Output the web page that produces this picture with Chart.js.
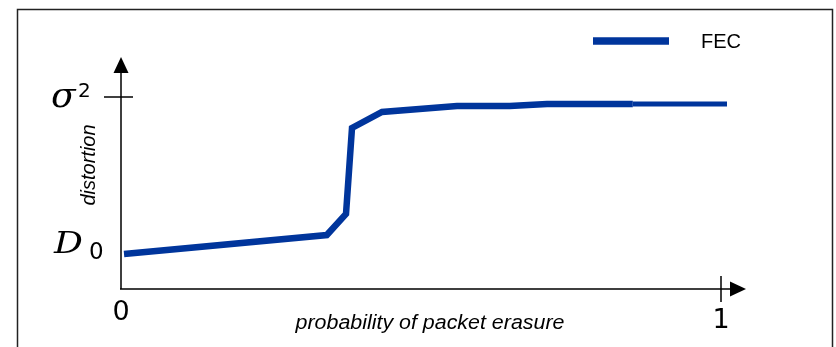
<!DOCTYPE html>
<html>
<head>
<meta charset="utf-8">
<script src="https://cdn.jsdelivr.net/npm/chart.js@4.4.1/dist/chart.umd.min.js"></script>
<style>
  html, body { margin: 0; padding: 0; background: #fff; }
  #wrap { width: 836px; height: 347px; }
</style>
</head>
<body>
<div id="wrap"><canvas id="fecChart" width="836" height="347"></canvas></div>
<script>
// curve (x: erasure probability 0..1, y: distortion, sigma^2 = 1)
const probability = [0.005, 0.343, 0.375, 0.385, 0.435, 0.56, 0.648, 0.71, 0.853];
const distortion  = [0.182, 0.281, 0.391, 0.839, 0.922, 0.953, 0.953, 0.964, 0.964];
// thinner tail of the same curve
const tailProbability = [0.853, 1.01];
const tailDistortion  = [0.964, 0.964];

const xTickValues = [0, 1];
const xTickLabels = ['0', '1'];
const yTickValues = [0.24, 1];
const yTickLabels = [['D', '0'], ['σ', '2']];

const seriesName = 'FEC';
const xTitle = 'probability of packet erasure';
const yTitle = 'distortion';

const blue = '#00359c';

const toPoints = (xs, ys) => xs.map((x, i) => ({ x: x, y: ys[i] }));

const sketchAxes = {
  id: 'sketchAxes',
  afterDatasetsDraw(chart) {
    const c = chart.ctx;
    const xs = chart.scales.x, ys = chart.scales.y;
    const x0 = xs.getPixelForValue(0), y0 = ys.getPixelForValue(0);
    c.save();

    // frame
    c.strokeStyle = '#222';
    c.lineWidth = 1.5;
    c.beginPath();
    c.moveTo(17.5, 360);
    c.lineTo(17.5, 9.5);
    c.lineTo(832.5, 9.5);
    c.lineTo(832.5, 360);
    c.stroke();

    // axes
    c.strokeStyle = '#000';
    c.fillStyle = '#000';
    c.lineWidth = 1.5;
    c.beginPath();
    c.moveTo(x0, y0);
    c.lineTo(x0, 70);
    c.moveTo(x0 - 1, y0);
    c.lineTo(733, y0);
    c.stroke();
    c.beginPath();
    c.moveTo(x0, 57);
    c.lineTo(x0 - 7.5, 73);
    c.lineTo(x0 + 7.5, 73);
    c.closePath();
    c.fill();
    c.beginPath();
    c.moveTo(746, y0);
    c.lineTo(730, y0 - 7.5);
    c.lineTo(730, y0 + 7.5);
    c.closePath();
    c.fill();

    // x ticks and labels
    c.font = '27px "DejaVu Sans"';
    c.textAlign = 'center';
    c.textBaseline = 'alphabetic';
    xTickValues.forEach((v, i) => {
      const px = xs.getPixelForValue(v);
      if (v > 0) {
        c.beginPath();
        c.moveTo(px, y0 - 13);
        c.lineTo(px, y0 + 13);
        c.stroke();
      }
      c.fillText(xTickLabels[i], px, v > 0 ? 328 : 320);
    });

    // y ticks and labels
    c.textAlign = 'left';
    yTickValues.forEach((v, i) => {
      const py = ys.getPixelForValue(v);
      const lab = yTickLabels[i];
      if (lab[0] === 'σ') {
        c.beginPath();
        c.moveTo(104, py);
        c.lineTo(133, py);
        c.stroke();
        c.font = 'italic 36px "DejaVu Serif"';
        c.fillText(lab[0], 51, py + 10);
        const w = c.measureText(lab[0]).width;
        c.font = '20px "DejaVu Sans"';
        c.fillText(lab[1], Math.max(78, 51 + w), py);
      } else {
        c.save();
        c.translate(54, py + 10);
        c.scale(1.2, 1);
        c.font = 'italic 30px "DejaVu Serif"';
        c.fillText(lab[0], 0, 0);
        c.restore();
        c.font = '23px "DejaVu Sans"';
        c.fillText(lab[1], 89, py + 16);
      }
    });

    // axis titles
    c.font = 'italic 20px "Liberation Sans"';
    c.textAlign = 'center';
    c.save();
    c.translate(430, 329);
    c.scale(1.07, 1);
    c.fillText(xTitle, 0, 0);
    c.restore();
    c.save();
    c.translate(95, 165);
    c.rotate(-Math.PI / 2);
    c.fillText(yTitle, 0, 0);
    c.restore();

    // legend
    c.strokeStyle = blue;
    c.lineWidth = 7.5;
    c.beginPath();
    c.moveTo(593, 41);
    c.lineTo(669, 41);
    c.stroke();
    c.fillStyle = '#000';
    c.font = '20px "Liberation Sans"';
    c.textAlign = 'left';
    c.fillText(seriesName, 701, 48);

    c.restore();
  }
};

new Chart(document.getElementById('fecChart'), {
  type: 'scatter',
  data: {
    datasets: [{
      label: seriesName,
      data: toPoints(probability, distortion),
      showLine: true,
      borderColor: blue,
      borderWidth: 6.5,
      borderJoinStyle: 'miter',
      borderCapStyle: 'butt',
      pointRadius: 0,
      clip: false
    }, {
      label: seriesName + ' tail',
      data: toPoints(tailProbability, tailDistortion),
      showLine: true,
      borderColor: blue,
      borderWidth: 5,
      borderCapStyle: 'butt',
      pointRadius: 0,
      clip: false
    }]
  },
  options: {
    responsive: false,
    animation: false,
    layout: { padding: { left: 121, right: 115, top: 97, bottom: 58 } },
    plugins: {
      legend: { display: false },
      tooltip: { enabled: false }
    },
    scales: {
      x: { type: 'linear', min: 0, max: 1, display: false },
      y: { type: 'linear', min: 0, max: 1, display: false }
    }
  },
  plugins: [sketchAxes]
});
</script>
</body>
</html>
